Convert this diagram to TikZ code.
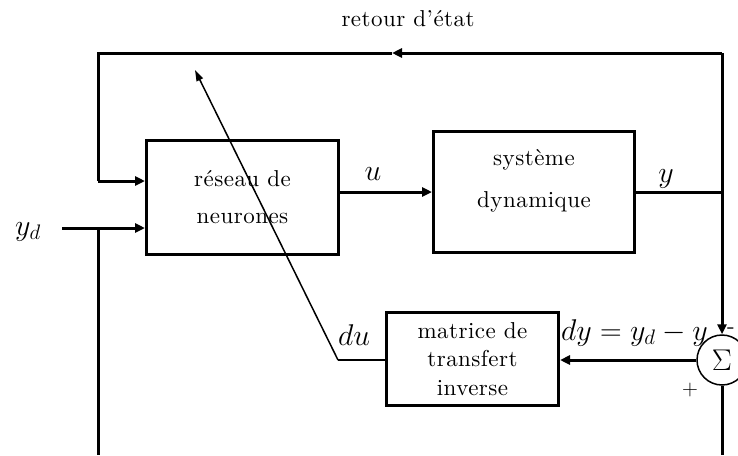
\RequirePackage{fix-cm}
\documentclass[tikz,border=0pt]{standalone}
\usepackage{fontspec}
\usetikzlibrary{arrows.meta}
\newfontfamily\lsfont[Extension=.otf,LetterSpace=2,Ligatures=TeX]{lmroman10-regular}
\newcommand\tf[1]{\lsfont\fontsize{23}{#1}\selectfont}
\newcommand\mf{\fontsize{30}{36}\selectfont}
\begin{document}
\begin{tikzpicture}[x=1pt,y=-1pt,
  thickline/.style={line width=3pt},
  arr/.style={-{Triangle[length=10pt,width=9pt]}},
  box/.style={draw,line width=3pt,inner sep=0pt,align=center},
  lbl/.style={font=\mf,inner sep=0pt}]
\useasboundingbox (0,0) rectangle (738,455);
% boxes
\node[box,font=\tf{37},minimum width=192pt,minimum height=114pt] (net) at (242.5,197.5) {réseau de\\neurones};
\node[box,minimum width=201pt,minimum height=121pt] (sys) at (534,192) {};
\node[font=\tf{42},align=center,inner sep=0pt] (systxt) at (534,181) {système\\dynamique};
\node[box,font=\tf{28.5},minimum width=172pt,minimum height=93pt] (mat) at (472.5,359) {matrice de\\transfert\\inverse};
\node[draw,circle,line width=1.5pt,minimum size=50pt,inner sep=0pt,font=\mf] (sum) at (722,360) {$\Sigma$};
% coordinates
\coordinate (tl) at (98,53);
\coordinate (tr) at (722,53);
\coordinate (mid) at (392,53);
\coordinate (a1) at (98,181);
\coordinate (ydin) at (62,228);
\coordinate (bl) at (98,455);
\coordinate (br) at (722,455);
\coordinate (ducorner) at (338,360);
\coordinate (dutip) at (195,70);
% connectors
\draw[thickline,arr] (tr) -- (mid);
\draw[thickline] (mid) -- (tl) -- (a1);
\draw[thickline,arr] (a1) -- (a1 -| net.west);
\draw[thickline,arr] (ydin) -- (ydin -| net.west);
\draw[thickline] (tl |- ydin) -- (bl);
\draw[thickline,arr] (net.east |- sys.west) -- (sys.west);
\draw[thickline] (sys.east) -- (sys.east -| tr);
\draw[thickline,arr] (tr) -- (sum.north);
\draw[thickline] (sum.south) -- (br);
\draw[thickline,arr] (sum.west) -- (sum.west -| mat.east);
\draw[line width=2pt] (mat.west |- sum) -- (ducorner);
\draw[line width=1.5pt,-{Triangle[length=11pt,width=7pt]}] (ducorner) -- (dutip);
% labels
\node[font=\tf{24},anchor=base] (retour) at (408,27) {retour d’état};
\node[lbl,anchor=base] (ulbl) at (373,180) {$u$};
\node[lbl,anchor=base] (ylbl) at (666,182) {$y$};
\node[lbl,anchor=base] (ydlbl) at (28,235) {$y_d$};
\node[lbl,anchor=base] (dulbl) at (354,345) {$du$};
\node[lbl,anchor=base west] (dylbl) at (561,340) {$dy = y_d - y$};
\node[font=\tf{24},inner sep=0pt] (minus) at (731,331) {-};
\node[font=\fontsize{22}{26}\selectfont,inner sep=0pt] (plus) at (690,390) {$+$};
\end{tikzpicture}
\end{document}
